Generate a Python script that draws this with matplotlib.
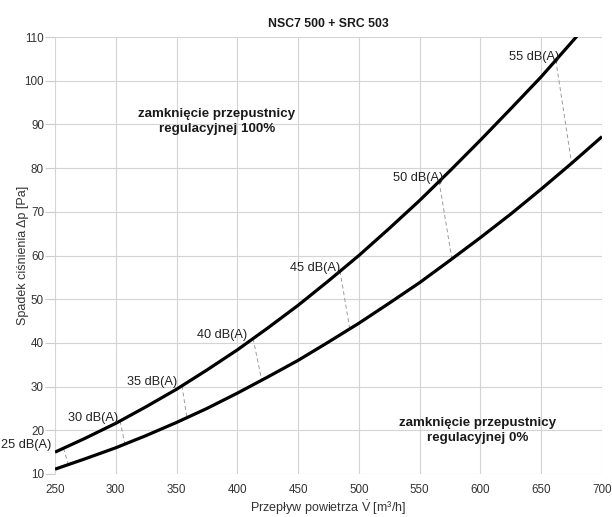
import numpy as np
import matplotlib
matplotlib.use("Agg")
import matplotlib.pyplot as plt

plt.rcParams['font.family'] = ['Liberation Sans', 'DejaVu Sans']
plt.rcParams['mathtext.fontset'] = 'custom'
plt.rcParams['mathtext.rm'] = 'Liberation Sans'
plt.rcParams['mathtext.it'] = 'Liberation Sans:italic'

# Airflow [m3/h]
flow = [250, 275, 300, 325, 350, 375, 400, 425, 450, 475, 500,
        525, 550, 575, 600, 625, 650, 675, 700]
# Pressure drop, damper closing 100%
dp_100 = [15.0, 18.2, 21.6, 25.4, 29.4, 33.8, 38.4, 43.4, 48.6, 54.2, 60.0,
          66.2, 72.6, 79.4, 86.4, 93.6, 100.9, 108.8, 116.8]
# Pressure drop, damper closing 0%
dp_0 = [11.1, 13.5, 16.0, 18.8, 21.8, 25.0, 28.5, 32.2, 36.0, 40.2, 44.5,
        49.1, 53.8, 58.9, 64.1, 69.5, 75.2, 81.1, 87.2]

# Noise level iso-lines: flow on upper and lower curve
db_labels = ['25 dB(A)', '30 dB(A)', '35 dB(A)', '40 dB(A)', '45 dB(A)', '50 dB(A)', '55 dB(A)']
db_flow_upper = [257, 303.5, 354.5, 413, 484.5, 566, 662]
db_flow_lower = [261, 307.5, 358.5, 420, 492.5, 576.5, 675]
# label horizontal offsets (points)
db_label_dx = [-8.4, -1.2, -3.3, -4.0, 0.3, 2.8, 2.4]

xticks = [250, 300, 350, 400, 450, 500, 550, 600, 650, 700]
yticks = [10, 20, 30, 40, 50, 60, 70, 80, 90, 100, 110]

fig = plt.figure(figsize=(6.12, 5.17), dpi=100)
ax = fig.add_axes([55/612, 43/517, 547/612, 437/517])

ax.set_xlim(250, 700)
ax.set_ylim(10, 110)
ax.set_xticks(xticks)
ax.set_yticks(yticks)
ax.grid(True, color='#d4d4d4', linewidth=0.8)
ax.set_axisbelow(True)
for s in ax.spines.values():
    s.set_visible(False)
ax.tick_params(axis='y', length=7, color='#cccccc', width=0.8, pad=1,
               labelsize=8.4, labelcolor='#333333')
ax.tick_params(axis='x', length=0, pad=7, labelsize=8.4, labelcolor='#333333')

ax.plot(flow, dp_100, color='black', linewidth=2.3, solid_capstyle='butt')
ax.plot(flow, dp_0, color='black', linewidth=2.3, solid_capstyle='butt')

for lab, fu, fl, dx in zip(db_labels, db_flow_upper, db_flow_lower, db_label_dx):
    yu = np.interp(fu, flow, dp_100)
    yl = np.interp(fl, flow, dp_0)
    ax.plot([fu, fl], [yu, yl], color='#9a9a9a', linewidth=0.7,
            linestyle=(0, (4, 3)), zorder=1.5)
    ax.annotate(lab, xy=(fu, yu), xytext=(dx, 2.5), textcoords='offset points',
                ha='right', va='center', fontsize=9.2, color='#222222',
                annotation_clip=False)

ax.text(383, 90.6, 'zamknięcie przepustnicy\nregulacyjnej 100%',
        ha='center', va='center', fontsize=9.6, fontweight='bold',
        color='#1a1a1a', linespacing=1.35)
ax.text(598, 20.0, 'zamknięcie przepustnicy\nregulacyjnej 0%',
        ha='center', va='center', fontsize=9.6, fontweight='bold',
        color='#1a1a1a', linespacing=1.35)

ax.set_title('NSC7 500 + SRC 503', fontsize=8.8, fontweight='bold', pad=7,
             color='#1a1a1a')
ax.set_xlabel(r'Przepływ powietrza $\dot{\mathrm{V}}$ [m³/h]', fontsize=9,
              color='#333333', labelpad=2)
ax.set_ylabel('Spadek ciśnienia Δp [Pa]', fontsize=9, color='#333333', labelpad=-3)

fig.savefig('out.png', dpi=100)
